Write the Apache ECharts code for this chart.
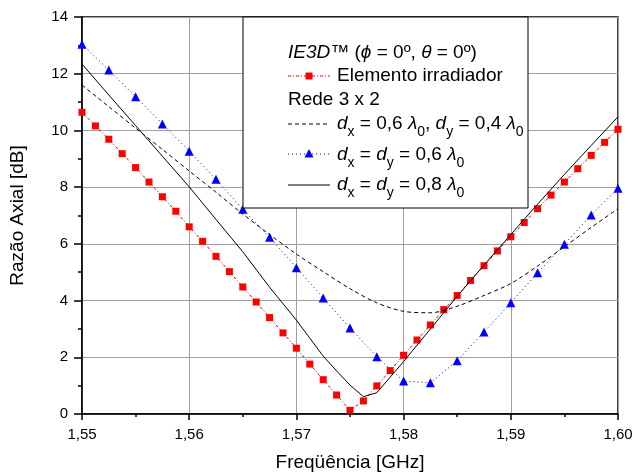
<!DOCTYPE html>
<html><head><meta charset="utf-8">
<script src="https://cdn.jsdelivr.net/npm/echarts@6.0.0/dist/echarts.min.js"></script>
<style>html,body{margin:0;padding:0;background:#fff}#c{width:633px;height:474px}</style>
</head><body><div id="c"></div>
<script>
// ---- data ----
const redX = [1.55,1.55125,1.5525,1.55375,1.555,1.55625,1.5575,1.55875,1.56,1.56125,1.5625,1.56375,1.565,1.56625,1.5675,1.56875,1.57,1.57125,1.5725,1.57375,1.575,1.57625,1.5775,1.57875,1.58,1.58125,1.5825,1.58375,1.585,1.58625,1.5875,1.58875,1.59,1.59125,1.5925,1.59375,1.595,1.59625,1.5975,1.59875,1.60];
const redY = [10.64,10.16,9.69,9.18,8.69,8.18,7.66,7.15,6.60,6.09,5.56,5.02,4.48,3.95,3.40,2.86,2.32,1.76,1.21,0.67,0.13,0.46,0.99,1.53,2.07,2.61,3.14,3.68,4.18,4.71,5.23,5.75,6.25,6.75,7.24,7.72,8.18,8.65,9.12,9.58,10.04];
const blueX = [1.55,1.5525,1.555,1.5575,1.56,1.5625,1.565,1.5675,1.57,1.5725,1.575,1.5775,1.58,1.5825,1.585,1.5875,1.59,1.5925,1.595,1.5975,1.60];
const blueY = [13.04,12.13,11.19,10.23,9.27,8.28,7.22,6.23,5.16,4.09,3.03,2.02,1.16,1.10,1.88,2.89,3.92,4.98,5.99,7.02,7.96];
const dashX = [1.55,1.5525,1.555,1.5575,1.56,1.5625,1.565,1.5675,1.57,1.5725,1.575,1.5775,1.58,1.5825,1.585,1.5875,1.59,1.5925,1.595,1.5975,1.60];
const dashY = [11.60,10.84,10.08,9.33,8.57,7.82,7.05,6.33,5.64,5.02,4.42,3.92,3.62,3.57,3.80,4.18,4.60,5.22,5.90,6.58,7.24];
const solidX = [1.55,1.5525,1.555,1.5575,1.56,1.5625,1.565,1.5675,1.57,1.5725,1.57375,1.575,1.57625,1.5775,1.58,1.5825,1.585,1.5875,1.59,1.5925,1.595,1.5975,1.60];
const solidY = [12.34,11.25,10.17,9.09,8.01,6.86,5.72,4.47,3.31,2.04,1.52,1.02,0.61,0.75,1.85,3.00,4.15,5.25,6.33,7.40,8.45,9.47,10.48];
const xTicks = [1.55,1.56,1.57,1.58,1.59,1.60];
const yTicks = [0,2,4,6,8,10,12,14];
const xName = 'Freqüência [GHz]';
const yName = 'Razão Axial [dB]';

const FONT = '"Liberation Sans", Arial, Helvetica, sans-serif';
const zip = (xs, ys) => xs.map((x, i) => [x, ys[i]]);

// ---- legend layout helper ----
const cv = document.createElement('canvas').getContext('2d');
function measure(t, size, italic) { cv.font = (italic ? 'italic ' : '') + size + 'px ' + FONT; return cv.measureText(t).width; }
function row(frags, x0, y, main, sub) {
  const out = []; let x = x0;
  frags.forEach(f => {
    const size = f.s ? sub : main;
    out.push({ type: 'text', x: x, y: y + (f.s ? 8 : 0), z: 102,
      style: { text: f.t, fontSize: size, fontFamily: FONT, fontStyle: f.i ? 'italic' : 'normal', fill: '#000', verticalAlign: 'middle', align: 'left' } });
    x += measure(f.t, size, f.i);
  });
  return out;
}
const LM = 19, LS = 14;
const legendEls = [
  { type: 'rect', z: 100, shape: { x: 243, y: 17, width: 285, height: 191 }, style: { fill: '#fff', stroke: '#000', lineWidth: 1 } },
  ...row([{t:'IE3D™', i:1},{t:' ('},{t:'ϕ', i:1},{t:' = 0º, '},{t:'θ', i:1},{t:' = 0º)'}], 288, 53, LM, LS),
  { type: 'line', z: 101, shape: { x1: 288, y1: 76, x2: 330, y2: 76 }, style: { stroke: '#ff0000', lineWidth: 1, lineDash: [3, 2, 1, 2] } },
  { type: 'rect', z: 102, shape: { x: 305.5, y: 72.5, width: 7, height: 7 }, style: { fill: '#ff0000' } },
  ...row([{t:'Elemento irradiador'}], 337, 76, LM, LS),
  ...row([{t:'Rede 3 x 2'}], 288, 100, LM, LS),
  { type: 'line', z: 101, shape: { x1: 288, y1: 124, x2: 330, y2: 124 }, style: { stroke: '#000', lineWidth: 1, lineDash: [4, 3] } },
  ...row([{t:'d',i:1},{t:'x',s:1},{t:' = 0,6 '},{t:'λ',i:1},{t:'0',s:1},{t:', '},{t:'d',i:1},{t:'y',s:1},{t:' = 0,4 '},{t:'λ',i:1},{t:'0',s:1}], 337, 124, LM, LS),
  { type: 'line', z: 101, shape: { x1: 288, y1: 154, x2: 330, y2: 154 }, style: { stroke: '#0000ff', lineWidth: 1, lineDash: [1, 3] } },
  { type: 'polygon', z: 102, shape: { points: [[309, 149], [313.5, 157.5], [304.5, 157.5]] }, style: { fill: '#0000ff' } },
  ...row([{t:'d',i:1},{t:'x',s:1},{t:' = '},{t:'d',i:1},{t:'y',s:1},{t:' = 0,6 '},{t:'λ',i:1},{t:'0',s:1}], 337, 155, LM, LS),
  { type: 'line', z: 101, shape: { x1: 288, y1: 185, x2: 330, y2: 185 }, style: { stroke: '#000', lineWidth: 1 } },
  ...row([{t:'d',i:1},{t:'x',s:1},{t:' = '},{t:'d',i:1},{t:'y',s:1},{t:' = 0,8 '},{t:'λ',i:1},{t:'0',s:1}], 337, 185, LM, LS)
];

const chart = echarts.init(document.getElementById('c'), null, { renderer: 'canvas' });
chart.setOption({
  animation: false,
  backgroundColor: '#fff',
  textStyle: { fontFamily: FONT },
  grid: { left: 82, right: 15, top: 17, bottom: 60, containLabel: false, outerBoundsMode: 'none',
    show: true, borderColor: '#000', borderWidth: 1.5, backgroundColor: 'transparent' },
  xAxis: {
    type: 'value', min: xTicks[0], max: xTicks[xTicks.length - 1], interval: 0.01,
    name: xName, nameLocation: 'middle', nameGap: 39,
    nameTextStyle: { fontSize: 19, color: '#000', fontFamily: FONT },
    axisLine: { show: true, onZero: false, lineStyle: { color: '#000', width: 1.5 } },
    axisTick: { show: true, length: 6, lineStyle: { color: '#000', width: 1.5 } },
    minorTick: { show: true, splitNumber: 2, length: 3, lineStyle: { color: '#000', width: 1.5 } },
    splitLine: { show: true, lineStyle: { color: '#a0a0a0', width: 1 } },
    axisLabel: { fontSize: 15, color: '#000', margin: 13, fontFamily: FONT, formatter: v => v.toFixed(2).replace('.', ',') }
  },
  yAxis: {
    type: 'value', min: yTicks[0], max: yTicks[yTicks.length - 1], interval: 2,
    name: yName, nameLocation: 'middle', nameGap: 55, nameRotate: 90,
    nameTextStyle: { fontSize: 19, color: '#000', fontFamily: FONT },
    axisLine: { show: true, onZero: false, lineStyle: { color: '#000', width: 1.5 } },
    axisTick: { show: true, length: 8, lineStyle: { color: '#000', width: 1.5 } },
    minorTick: { show: true, splitNumber: 2, length: 4, lineStyle: { color: '#000', width: 1.5 } },
    splitLine: { show: true, lineStyle: { color: '#a0a0a0', width: 1 } },
    axisLabel: { fontSize: 15, color: '#000', margin: 14, fontFamily: FONT }
  },
  series: [
    { type: 'line', data: zip(redX, redY), symbol: 'rect', symbolSize: 7, showAllSymbol: true,
      itemStyle: { color: '#ff0000' }, lineStyle: { color: '#ff0000', width: 1, type: [3, 2, 1, 2] }, z: 3 },
    { type: 'line', data: zip(blueX, blueY), symbol: 'triangle', symbolSize: 9, showAllSymbol: true,
      itemStyle: { color: '#0000ff' }, lineStyle: { color: '#0000ff', width: 1, type: [1, 3] }, z: 3 },
    { type: 'line', data: zip(dashX, dashY), symbol: 'none', smooth: 0.3,
      lineStyle: { color: '#000', width: 1, type: [4, 3] }, z: 4 },
    { type: 'line', data: zip(solidX, solidY), symbol: 'none',
      lineStyle: { color: '#000', width: 1, type: 'solid' }, z: 4 }
  ],
  graphic: legendEls
});
</script>
</body></html>
